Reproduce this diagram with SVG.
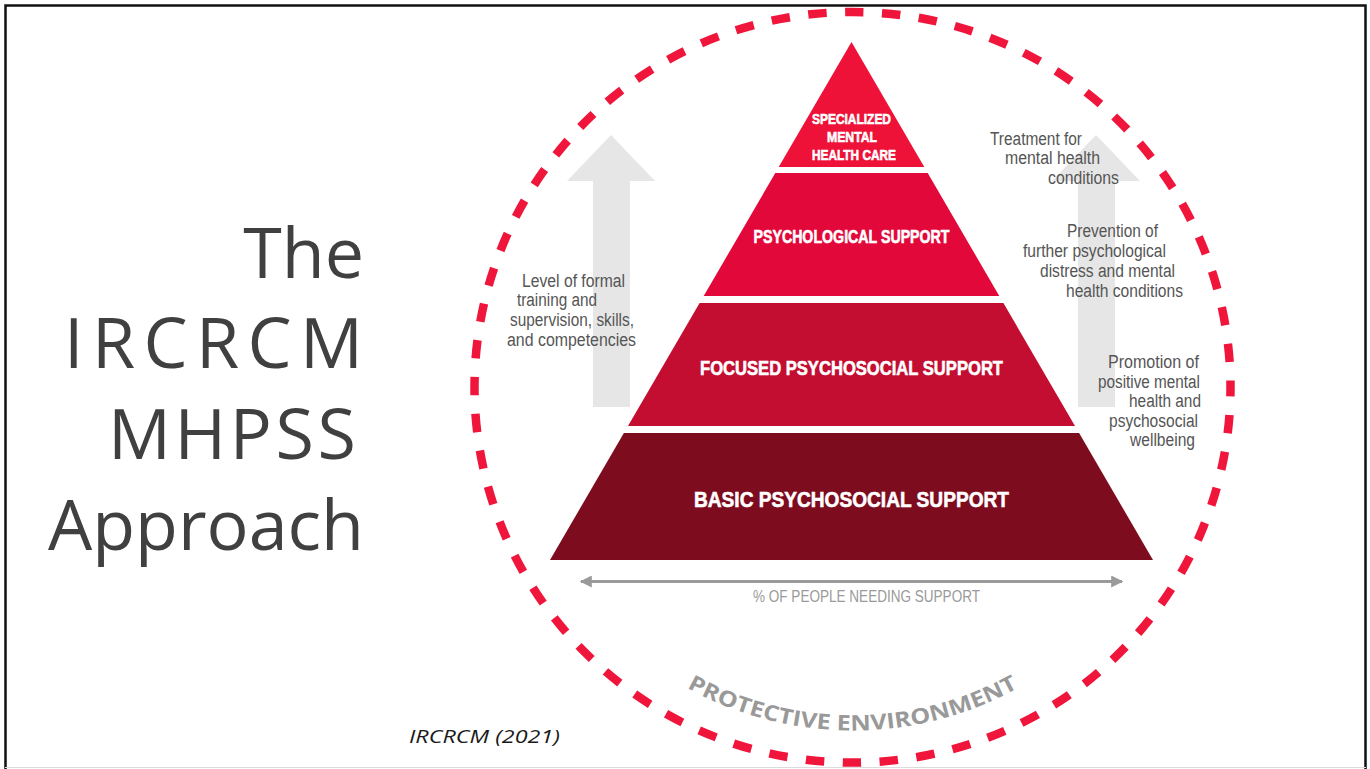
<svg xmlns="http://www.w3.org/2000/svg" width="1370" height="769" viewBox="0 0 1370 769">
  <style>
    .tier-label { font-family: "Liberation Sans Narrow", "Liberation Sans", Arial, sans-serif; font-weight: bold; fill: #ffffff; stroke: #ffffff; stroke-width: 0.6; text-anchor: middle; }
    .note { font-family: "Liberation Sans Narrow", "Liberation Sans", Arial, sans-serif; font-size: 18px; fill: #555555; }
    .title { font-family: "Open Sans", "Noto Sans", "DejaVu Sans", sans-serif; font-size: 70px; fill: #404040; text-anchor: end; }
    .grayarrow { fill: #e6e6e6; }
  </style>
  <defs>
    <marker id="ah" viewBox="0 0 10 10" refX="9" refY="5" markerWidth="5" markerHeight="4" orient="auto-start-reverse" markerUnits="strokeWidth">
      <path d="M0,0 L10,5 L0,10 z" fill="#9a9a9a"/>
    </marker>
    <path id="envArc" d="M 509.5 387.5 A 343 343 0 0 0 1195.5 387.5"/>
  </defs>

  <rect x="0" y="0" width="1370" height="769" fill="#ffffff"/>
  <!-- frame -->
  <path d="M5.5 769 V5.5 H1365.5 V769" fill="none" stroke="#111" stroke-width="2.5"/>
  <line x1="5" y1="767.5" x2="1366" y2="767.5" stroke="#dcdcdc" stroke-width="1"/>

  <!-- title -->
  <g id="title">
    <text class="title" x="364" y="278">The</text>
    <text class="title" x="363" y="368" textLength="299" lengthAdjust="spacing">IRCRCM</text>
    <text class="title" x="356" y="459" textLength="248" lengthAdjust="spacing">MHPSS</text>
    <text class="title" x="364" y="550">Approach</text>
  </g>

  <!-- protective environment circle -->
  <g id="protective-environment">
    <ellipse cx="852.5" cy="387.3" rx="378" ry="375.3" fill="none" stroke="#F0163B" stroke-width="8.5" stroke-dasharray="18.5 18.5" stroke-dashoffset="9.25"/>
    <text font-family="'Open Sans', 'DejaVu Sans', sans-serif" font-weight="700" font-size="21.5" fill="#999999">
      <textPath href="#envArc" startOffset="50%" text-anchor="middle" textLength="346" lengthAdjust="spacingAndGlyphs">PROTECTIVE ENVIRONMENT</textPath>
    </text>
  </g>

  <!-- gray up arrows -->
  <g id="arrow-left">
    <polygon class="grayarrow" points="611,135 655,181 630,181 630,407 593,407 593,181 567,181"/>
  </g>
  <g id="arrow-right">
    <polygon class="grayarrow" points="1096,135 1140,181 1115,181 1115,407 1078,407 1078,181 1052,181"/>
  </g>

  <!-- pyramid tiers -->
  <g id="tier-specialized">
    <polygon points="851.5,42 924.3,167 778.7,167" fill="#EE1238"/>
    <text class="tier-label" x="851.5" y="124" font-size="14.5" textLength="79" lengthAdjust="spacingAndGlyphs">SPECIALIZED</text>
    <text class="tier-label" x="852" y="142" font-size="14.5" textLength="50" lengthAdjust="spacingAndGlyphs">MENTAL</text>
    <text class="tier-label" x="854" y="160" font-size="14.5" textLength="84" lengthAdjust="spacingAndGlyphs">HEALTH CARE</text>
  </g>
  <g id="tier-psychological">
    <polygon points="775.3,173 927.7,173 999.3,296 703.7,296" fill="#E3083A"/>
    <text class="tier-label" x="851.5" y="243" font-size="18.5" textLength="196" lengthAdjust="spacingAndGlyphs">PSYCHOLOGICAL SUPPORT</text>
  </g>
  <g id="tier-focused">
    <polygon points="699.6,303 1003.4,303 1075,426 628,426" fill="#C30D31"/>
    <text class="tier-label" x="851.5" y="375" font-size="20" textLength="303" lengthAdjust="spacingAndGlyphs">FOCUSED PSYCHOSOCIAL SUPPORT</text>
  </g>
  <g id="tier-basic">
    <polygon points="623.9,433 1079.1,433 1153,560 550,560" fill="#7D0C1F"/>
    <text class="tier-label" x="851.5" y="507" font-size="22" textLength="315" lengthAdjust="spacingAndGlyphs">BASIC PSYCHOSOCIAL SUPPORT</text>
  </g>

  <!-- left note -->
  <g id="note-left">
    <text class="note" x="522" y="287" textLength="103" lengthAdjust="spacingAndGlyphs">Level of formal</text>
    <text class="note" x="517" y="306" textLength="80" lengthAdjust="spacingAndGlyphs">training and</text>
    <text class="note" x="510" y="326" textLength="124" lengthAdjust="spacingAndGlyphs">supervision, skills,</text>
    <text class="note" x="507" y="346" textLength="129" lengthAdjust="spacingAndGlyphs">and competencies</text>
  </g>

  <!-- right notes -->
  <g id="note-treatment">
    <text class="note" x="990" y="145" textLength="92" lengthAdjust="spacingAndGlyphs">Treatment for</text>
    <text class="note" x="1005" y="164" textLength="95" lengthAdjust="spacingAndGlyphs">mental health</text>
    <text class="note" x="1048" y="184" textLength="71" lengthAdjust="spacingAndGlyphs">conditions</text>
  </g>
  <g id="note-prevention">
    <text class="note" x="1067" y="237" textLength="91" lengthAdjust="spacingAndGlyphs">Prevention of</text>
    <text class="note" x="1023" y="257" textLength="143" lengthAdjust="spacingAndGlyphs">further psychological</text>
    <text class="note" x="1040" y="277" textLength="135" lengthAdjust="spacingAndGlyphs">distress and mental</text>
    <text class="note" x="1066" y="297" textLength="117" lengthAdjust="spacingAndGlyphs">health conditions</text>
  </g>
  <g id="note-promotion">
    <text class="note" x="1108" y="368" textLength="91" lengthAdjust="spacingAndGlyphs">Promotion of</text>
    <text class="note" x="1098" y="388" textLength="102" lengthAdjust="spacingAndGlyphs">positive mental</text>
    <text class="note" x="1129" y="407" textLength="72" lengthAdjust="spacingAndGlyphs">health and</text>
    <text class="note" x="1109" y="427" textLength="89" lengthAdjust="spacingAndGlyphs">psychosocial</text>
    <text class="note" x="1130" y="446" textLength="65" lengthAdjust="spacingAndGlyphs">wellbeing</text>
  </g>

  <!-- connectors -->
  <g id="connectors">
    <line x1="581" y1="581.5" x2="1122" y2="581.5" stroke="#9a9a9a" stroke-width="3" marker-start="url(#ah)" marker-end="url(#ah)"/>
  </g>
  <g id="people-label">
    <text x="866.5" y="602" font-family="'Liberation Sans Narrow', 'Liberation Sans', Arial, sans-serif" font-size="16" fill="#9a9a9a" text-anchor="middle" textLength="227" lengthAdjust="spacingAndGlyphs">% OF PEOPLE NEEDING SUPPORT</text>
  </g>

  <!-- citation -->
  <g id="citation">
    <text x="409" y="743" font-family="'Open Sans', 'DejaVu Sans', sans-serif" font-style="italic" font-size="18" fill="#1a1a1a" textLength="151" lengthAdjust="spacingAndGlyphs">IRCRCM (2021)</text>
  </g>
</svg>
